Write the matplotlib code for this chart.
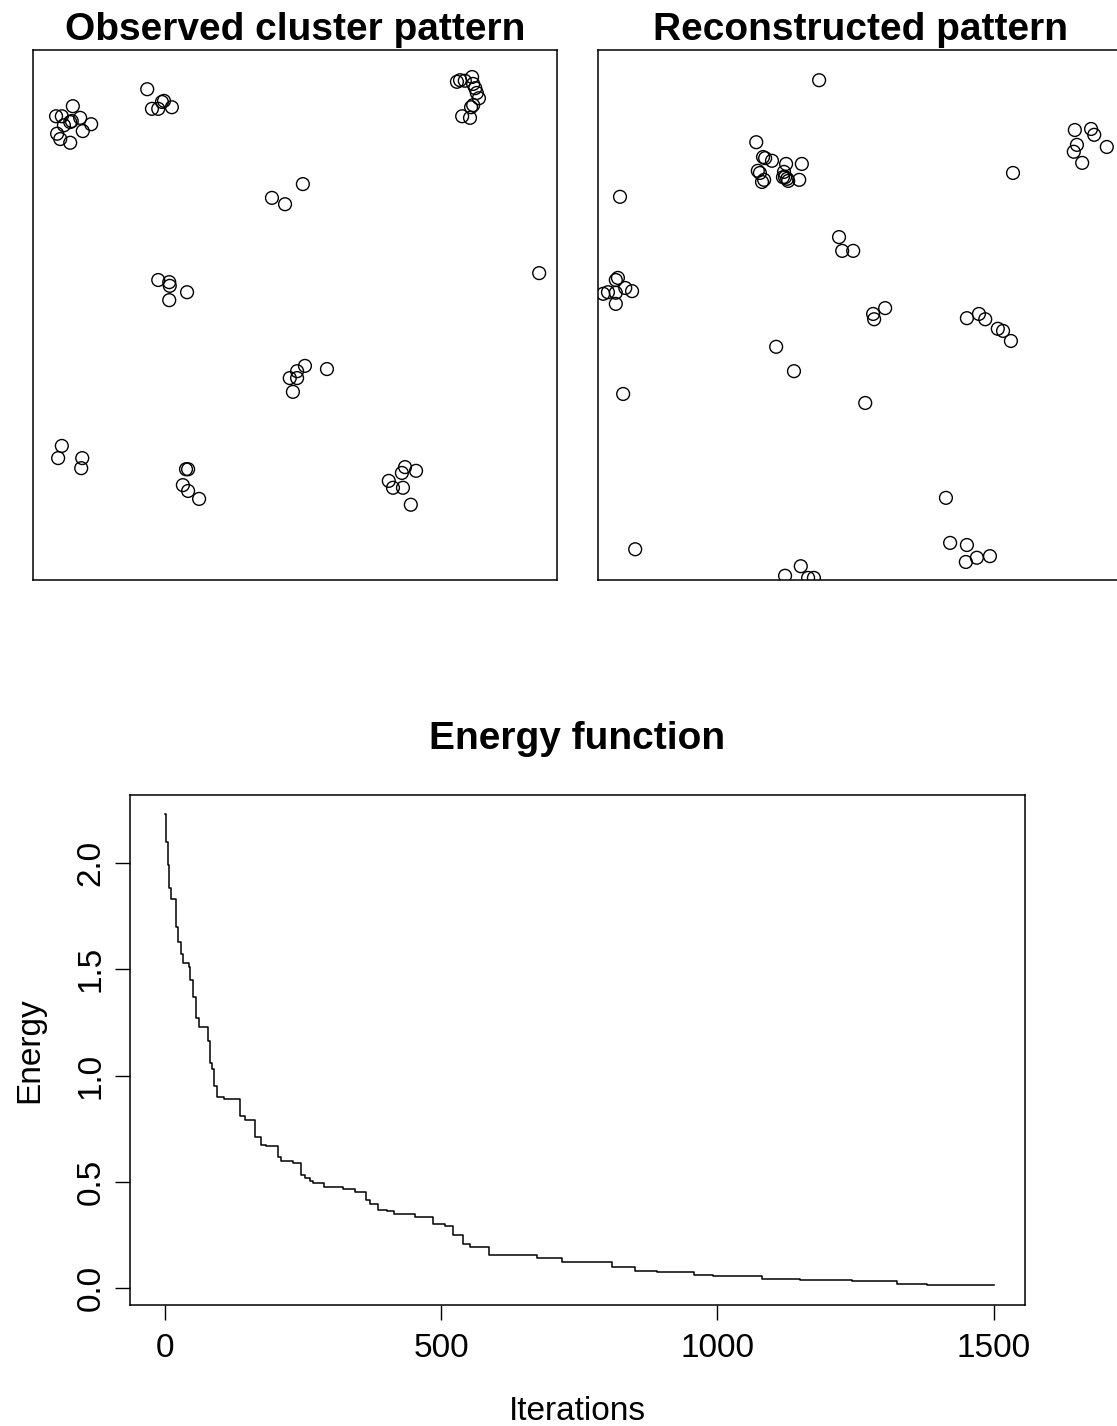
import matplotlib
matplotlib.use("Agg")
import matplotlib.pyplot as plt

plt.rcParams['font.family'] = ['Liberation Sans', 'DejaVu Sans']

# Observed point pattern (unit window)
obs_x = [0.076, 0.044, 0.055, 0.059, 0.071, 0.074, 0.090, 0.111, 0.095, 0.046, 0.052, 0.071,
         0.218, 0.227, 0.239, 0.246, 0.250, 0.265,
         0.456, 0.481, 0.515,
         0.239, 0.260, 0.261, 0.260, 0.294,
         0.809, 0.815, 0.824, 0.838, 0.840, 0.844, 0.847, 0.851, 0.840, 0.836, 0.819, 0.834,
         0.966,
         0.490, 0.504, 0.504, 0.519, 0.496, 0.561,
         0.055, 0.048, 0.094, 0.092,
         0.292, 0.296, 0.286, 0.296, 0.317,
         0.679, 0.687, 0.706, 0.704, 0.710, 0.731, 0.721]
obs_y = [0.894, 0.875, 0.875, 0.858, 0.864, 0.866, 0.872, 0.860, 0.847, 0.842, 0.832, 0.825,
         0.926, 0.889, 0.889, 0.902, 0.904, 0.892,
         0.721, 0.709, 0.747,
         0.566, 0.562, 0.555, 0.528, 0.543,
         0.940, 0.943, 0.942, 0.949, 0.936, 0.928, 0.919, 0.909, 0.896, 0.892, 0.875, 0.872,
         0.579,
         0.381, 0.394, 0.381, 0.404, 0.355, 0.398,
         0.253, 0.230, 0.230, 0.211,
         0.209, 0.209, 0.179, 0.168, 0.153,
         0.187, 0.174, 0.174, 0.202, 0.213, 0.206, 0.142]

# Reconstructed point pattern (unit window)
rec_x = [0.422,
         0.302, 0.315, 0.319, 0.332, 0.359, 0.389, 0.305, 0.309, 0.355, 0.313, 0.317, 0.353,
         0.361, 0.363, 0.384, 0.357,
         0.042, 0.460, 0.466, 0.487,
         0.038, 0.034, 0.052, 0.065, 0.010, 0.019, 0.034, 0.034,
         0.910, 0.941, 0.947, 0.914, 0.908, 0.924, 0.971, 0.792,
         0.548, 0.525, 0.527, 0.704, 0.727, 0.739, 0.763, 0.773, 0.788,
         0.340, 0.374, 0.048, 0.510, 0.071, 0.387, 0.357, 0.401, 0.412,
         0.664, 0.672, 0.704, 0.702, 0.723, 0.748]
rec_y = [0.943,
         0.826, 0.798, 0.796, 0.791, 0.785, 0.785, 0.772, 0.768, 0.770, 0.751, 0.755, 0.760,
         0.757, 0.753, 0.755, 0.760,
         0.723, 0.647, 0.621, 0.621,
         0.570, 0.566, 0.551, 0.545, 0.540, 0.543, 0.542, 0.521,
         0.849, 0.851, 0.840, 0.821, 0.808, 0.787, 0.817, 0.768,
         0.513, 0.502, 0.492, 0.494, 0.502, 0.492, 0.474, 0.470, 0.451,
         0.440, 0.394, 0.351, 0.334, 0.058, 0.026, 0.008, 0.004, 0.004,
         0.155, 0.070, 0.066, 0.034, 0.042, 0.045]

# Energy trace (value changes at these iterations)
iterations = [0, 3, 6, 8, 12, 21, 24, 29, 33, 44, 45, 51, 57, 62, 79, 82, 86, 89, 95, 107,
              136, 145, 163, 174, 184, 204, 211, 232, 246, 254, 263, 269, 289, 323, 344,
              365, 371, 386, 402, 414, 453, 485, 507, 522, 540, 553, 586, 673, 719, 809,
              851, 891, 957, 993, 1081, 1150, 1244, 1325, 1380, 1500]
energy = [2.23, 2.10, 1.99, 1.88, 1.83, 1.70, 1.63, 1.57, 1.53, 1.51, 1.45, 1.37, 1.27, 1.23,
          1.16, 1.06, 1.03, 0.95, 0.90, 0.89, 0.81, 0.79, 0.71, 0.675, 0.667, 0.616, 0.596,
          0.588, 0.534, 0.52, 0.504, 0.494, 0.476, 0.465, 0.452, 0.413, 0.398, 0.366, 0.362,
          0.351, 0.335, 0.300, 0.293, 0.249, 0.210, 0.194, 0.155, 0.142, 0.121, 0.100, 0.080,
          0.074, 0.062, 0.057, 0.045, 0.040, 0.033, 0.022, 0.014, 0.014]

W, H = 1117, 1426
fig = plt.figure(figsize=(W / 100, H / 100), dpi=100)


def pattern_axes(left_px, title, xs, ys):
    ax = fig.add_axes([left_px / W, 1 - 580 / H, 524 / W, 530 / H])
    ax.scatter(xs, ys, s=85, facecolors='none', edgecolors='black', linewidths=1.0)
    ax.set_xlim(0, 1)
    ax.set_ylim(0, 1)
    ax.set_xticks([])
    ax.set_yticks([])
    for sp in ax.spines.values():
        sp.set_linewidth(1.1)
    ax.set_title(title, fontsize=28, fontweight='bold', pad=7)
    return ax


pattern_axes(33, 'Observed cluster pattern', obs_x, obs_y)
pattern_axes(598, 'Reconstructed pattern', rec_x, rec_y)

# Energy panel
ax = fig.add_axes([130 / W, 1 - 1305 / H, 895 / W, 510 / H])
ax.plot(iterations, energy, drawstyle='steps-post', color='black', linewidth=1.1)
ax.set_xlim(-63, 1557)
ax.set_ylim(-0.079, 2.319)
ax.set_xticks([0, 500, 1000, 1500])
ax.set_yticks([0.0, 0.5, 1.0, 1.5, 2.0])
ax.set_yticklabels(['0.0', '0.5', '1.0', '1.5', '2.0'])
ax.tick_params(axis='both', labelsize=24, length=11, width=1.0, pad=9)
ax.tick_params(axis='y', labelrotation=90, pad=6)
for lbl in ax.get_yticklabels():
    lbl.set_va('center')
for sp in ax.spines.values():
    sp.set_linewidth(1.1)
ax.set_title('Energy function', fontsize=28, fontweight='bold', pad=33)
ax.set_xlabel('Iterations', fontsize=24, labelpad=23)
ax.set_ylabel('Energy', fontsize=24, labelpad=22)

fig.savefig('out.png', dpi=100)
